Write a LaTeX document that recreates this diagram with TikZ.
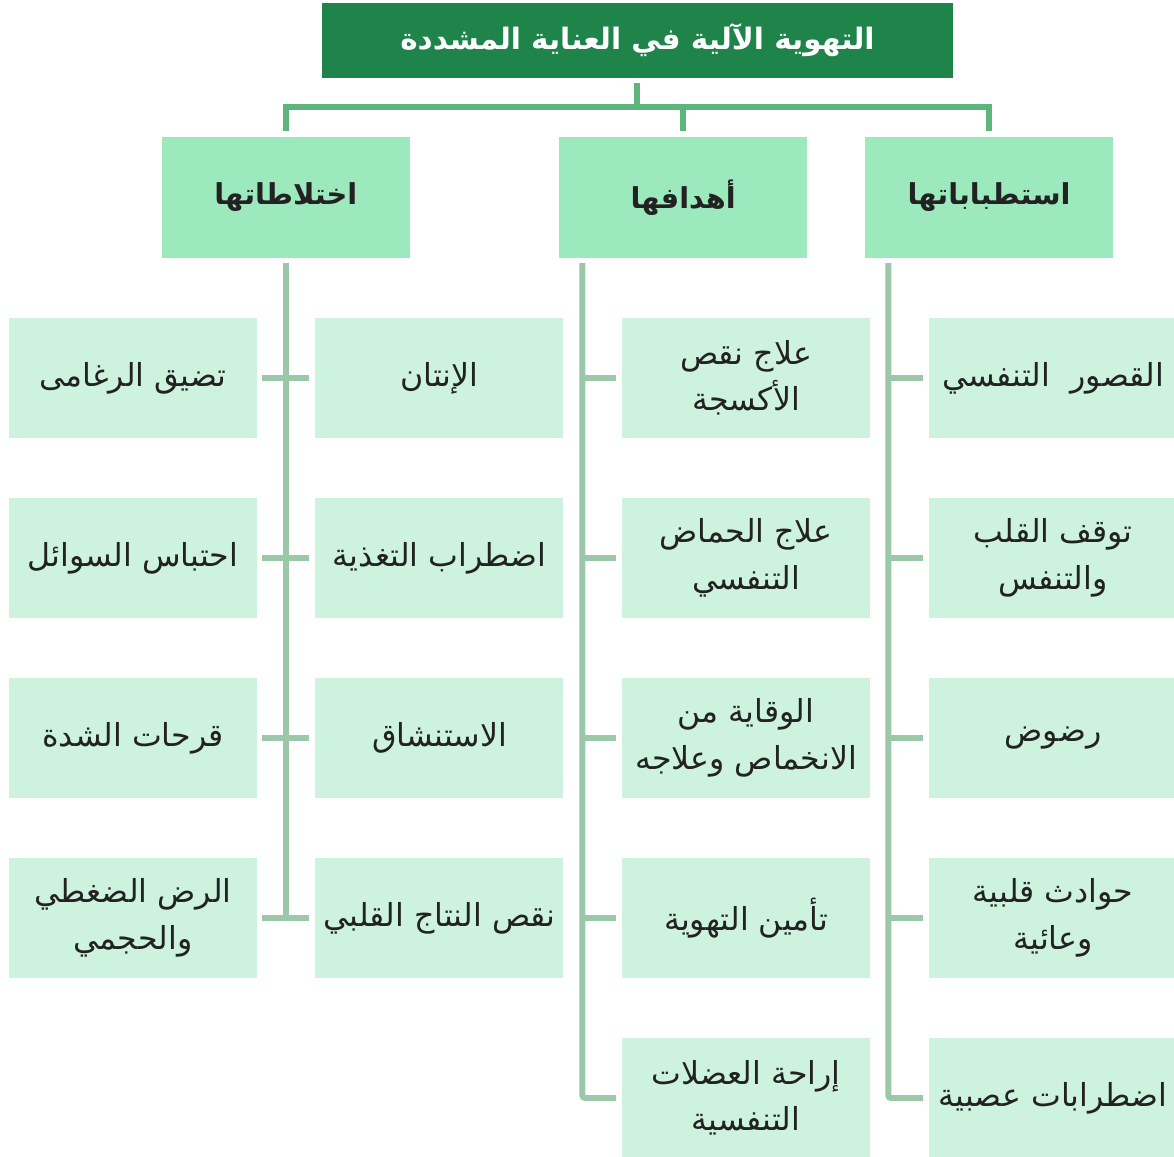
\documentclass[tikz,border=0pt]{standalone}
\usepackage{fontspec}
\usetikzlibrary{positioning}
\newfontfamily\arabicfont[Script=Arabic]{DejaVu Sans}
\TeXXeTstate=1
\newcommand{\ar}[1]{{\arabicfont\beginR #1\endR}}
\definecolor{titlegreen}{HTML}{1E8449}
\definecolor{catgreen}{HTML}{9DE9BE}
\definecolor{leafgreen}{HTML}{CDF2DE}
\definecolor{busgreen}{HTML}{5DB57C}
\definecolor{twiggreen}{HTML}{9AC8A8}
\definecolor{ink}{HTML}{222222}
\tikzset{
  head/.style={rectangle, fill=titlegreen, text=white, minimum width=15.775cm, minimum height=1.875cm, inner sep=0pt, outer sep=0pt, font=\fontsize{21}{27}\selectfont\bfseries},
  cat/.style={rectangle, fill=catgreen, text=ink, minimum width=6.2cm, minimum height=3.025cm, inner sep=0pt, outer sep=0pt, font=\fontsize{20.5}{26}\selectfont\bfseries},
  leaf/.style={rectangle, fill=leafgreen, text=ink, minimum width=6.2cm, minimum height=3cm, inner sep=0pt, outer sep=0pt, align=center, font=\fontsize{22.5}{33}\selectfont},
  bus/.style={draw=busgreen, line width=0.15cm},
  twig/.style={draw=twiggreen, line width=0.15cm, rounded corners=2pt},
}

\begin{document}
\begin{tikzpicture}[node distance=1.5cm]
    \useasboundingbox (-15.9375,1.0125) rectangle (13.4125,-27.9125);

    %nodes
    \node[head] (title) {\ar{التهوية الآلية في العناية المشددة}};
    \node[cat, below=1.475cm of title, xshift=8.79cm] (cR) {\ar{استطباباتها}};
    \node[cat, below=1.475cm of title, xshift=1.14cm] (cM) {\ar{أهدافها}};
    \node[cat, below=1.475cm of title, xshift=-8.79cm] (cL) {\ar{اختلاطاتها}};

    % indications
    \node[leaf, below=of cR, xshift=1.6cm] (r1) {\ar{القصور\ \ التنفسي}};
    \node[leaf, below=of r1] (r2) {\ar{توقف القلب}\\\ar{والتنفس}};
    \node[leaf, below=of r2] (r3) {\ar{رضوض}};
    \node[leaf, below=of r3] (r4) {\ar{حوادث قلبية}\\\ar{وعائية}};
    \node[leaf, below=of r4] (r5) {\ar{اضطرابات عصبية}};

    % aims
    \node[leaf, below=of cM, xshift=1.575cm] (m1) {\ar{علاج نقص}\\\ar{الأكسجة}};
    \node[leaf, below=of m1] (m2) {\ar{علاج الحماض}\\\ar{التنفسي}};
    \node[leaf, below=of m2] (m3) {\ar{الوقاية من}\\\ar{الانخماص وعلاجه}};
    \node[leaf, below=of m3] (m4) {\ar{تأمين التهوية}};
    \node[leaf, below=of m4] (m5) {\ar{إراحة العضلات}\\\ar{التنفسية}};

    % complications
    \node[leaf, below=of cL, xshift=3.84cm] (li1) {\ar{الإنتان}};
    \node[leaf, below=of li1] (li2) {\ar{اضطراب التغذية}};
    \node[leaf, below=of li2] (li3) {\ar{الاستنشاق}};
    \node[leaf, below=of li3] (li4) {\ar{نقص النتاج القلبي}};
    \node[leaf, below=of cL, xshift=-3.825cm] (lo1) {\ar{تضيق الرغامى}};
    \node[leaf, below=of lo1] (lo2) {\ar{احتباس السوائل}};
    \node[leaf, below=of lo2] (lo3) {\ar{قرحات الشدة}};
    \node[leaf, below=of lo3] (lo4) {\ar{الرض الضغطي}\\\ar{والحجمي}};

    % edges
    \draw[bus] ([yshift=-0.125cm]title.south) -- ++(0,-0.6) coordinate (hub);
    \draw[bus] ([yshift=0.15cm]cL.north) |- (hub) -| ([yshift=0.15cm]cR.north);
    \draw[bus] ([yshift=0.15cm]cM.north) -- (cM.north |- hub);

    \coordinate (rT) at ([xshift=0.58cm, yshift=-0.125cm]cR.south west);
    \coordinate (mT) at ([xshift=0.58cm, yshift=-0.125cm]cM.south west);
    \coordinate (lT) at ([yshift=-0.125cm]cL.south);
    \draw[twig] (rT) |- ([xshift=-0.15cm]r5.west);
    \draw[twig] (mT) |- ([xshift=-0.15cm]m5.west);
    \draw[twig] (lT) -- (lT |- li4.west);
    \foreach \i in {1,...,4} {
        \draw[twig] (rT |- r\i.west) -- ([xshift=-0.15cm]r\i.west);
        \draw[twig] (mT |- m\i.west) -- ([xshift=-0.15cm]m\i.west);
        \draw[twig] ([xshift=0.13cm]lo\i.east) -- ([xshift=-0.15cm]li\i.west);
    }
\end{tikzpicture}
\end{document}
